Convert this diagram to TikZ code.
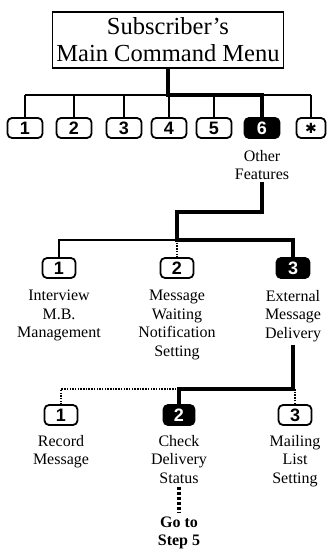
\documentclass[tikz,border=0pt]{standalone}
\usepackage{fontspec}
\setmainfont{Liberation Serif}
\newfontfamily\keyfont{Liberation Sans}
\newfontfamily\symfont{DejaVu Sans}
\begin{document}
\begin{tikzpicture}[x=1bp,y=-1bp,
  thin line/.style={line width=1.2bp},
  thick line/.style={line width=4.5bp},
  dot line/.style={line width=1.2bp, dash pattern=on 1.5bp off 1.2bp},
  key/.style={draw, line width=1.8bp, rounded corners=4.5bp, minimum width=35bp, minimum height=20bp, inner sep=0pt,
    font={\keyfont\bfseries\fontsize{18bp}{18bp}\selectfont}},
  keyon/.style={key, fill=black, text=white},
  skey/.style={key, minimum width=33bp, minimum height=20bp},
  skeyon/.style={keyon, minimum width=33bp, minimum height=20bp},
  lab/.style={align=center, inner sep=0pt, font={\fontsize{16bp}{18.5bp}\selectfont}},
  menubox/.style={draw, line width=1.3bp, minimum width=231bp, minimum height=56bp, align=center, inner sep=0pt,
    font={\fontsize{24.5bp}{27bp}\selectfont}}]
\useasboundingbox (0,0) rectangle (327,550);
% main menu
\node[menubox] (menu) at (168,40) {Subscriber's\\Main Command Menu};
% level 1 keys
\node[key] (k1) at (25,128) {1};
\node[key] (k2) at (74,128) {2};
\node[key] (k3) at (124,128) {3};
\node[key] (k4) at (169,128) {4};
\node[key] (k5) at (214,128) {5};
\node[keyon] (k6) at (262,128) {6};
\node[key, minimum width=29bp, font={\symfont\bfseries\fontsize{14bp}{14bp}\selectfont}] (ks) at (311,128) {✱};
\node[lab, anchor=north] (of) at (262,150) {Other\\Features};
\coordinate (bus) at (0,95);
\draw[thin line] (k1.north |- bus) -- (ks.north |- bus);
\foreach \k in {k1,k2,k3,k4,k5,ks} \draw[thin line] (\k.north |- bus) -- (\k.north);
\draw[thick line] (menu.south) -- (menu.south |- bus) -- (k6.north |- bus) -- (k6.north);
% level 2
\node[skey] (m1) at (59,268) {1};
\node[skey] (m2) at (177,268) {2};
\node[skeyon] (m3) at (293,268) {3};
\node[lab, anchor=north] (l21) at (59,290) {Interview\\M.B.\\Management};
\node[lab, anchor=north] (l22) at (177,290) {Message\\Waiting\\Notification\\Setting};
\node[lab, anchor=north] (l23) at (293,290) {External\\Message\\Delivery};
\coordinate (j1) at (177,212);
\coordinate (bus2) at (0,240);
\draw[thick line] (of.south -| k6.south) ++(0,2) coordinate (o1) -- (o1 |- j1) -- (j1) -- (j1 |- bus2) -- (m3.north |- bus2) -- (m3.north);
\draw[thin line] (j1 |- bus2) -- (m1.north |- bus2) -- (m1.north);
\draw[dot line] (j1 |- bus2) -- (m2.north);
% level 3
\node[skey] (n1) at (61,415) {1};
\node[skeyon, minimum width=31bp] (n2) at (179,415) {2};
\node[skey] (n3) at (295,415) {3};
\node[lab, anchor=north] (l31) at (61,435) {Record\\Message};
\node[lab, anchor=north] (l32) at (179,435) {Check\\Delivery\\Status};
\node[lab, anchor=north] (l33) at (295,435) {Mailing\\List\\Setting};
\coordinate (bus3) at (0,389);
\draw[thick line] (l23.south -| m3.south) ++(0,3) coordinate (o2) -- (o2 |- bus3) -- (n2.north |- bus3) -- (n2.north);
\draw[dot line] (n2.north |- bus3) -- (n1.north |- bus3) -- (n1.north);
\draw[dot line] (n3.north |- bus3) -- (n3.north);
\node[lab, anchor=north, font={\bfseries\fontsize{16bp}{18bp}\selectfont}] (go) at (179,517) {Go to\\Step 5};
\draw[line width=4bp, dash pattern=on 3bp off 2bp] (l32.south) ++(0,3) coordinate (o3) -- ([yshift=4bp]go.north);
\end{tikzpicture}
\end{document}
